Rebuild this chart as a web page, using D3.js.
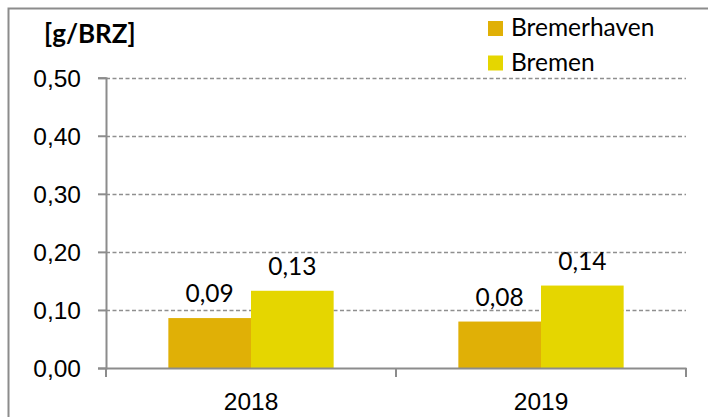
<!DOCTYPE html>
<html>
<head>
<meta charset="utf-8">
<script src="https://cdn.jsdelivr.net/npm/d3@7"></script>
<style>
  body { margin: 0; background: #fff; }
  svg { display: block; font-family: Lato, "Open Sans", sans-serif; }
</style>
</head>
<body>
<svg id="chart" width="708" height="417"></svg>
<script>
const years = ["2018", "2019"];
const seriesNames = ["Bremerhaven", "Bremen"];
const bremerhaven = [0.086, 0.080];
const bremen = [0.133, 0.142];
const labels = [["0,09", "0,13"], ["0,08", "0,14"]];
const yTicks = [0, 0.1, 0.2, 0.3, 0.4, 0.5];
const colors = ["#e0b006", "#e5d600"];

const svg = d3.select("#chart");
const plotLeft = 106, plotRight = 686, plotTop = 77.7, plotBottom = 368;
const fontSize = "24.5px";

// outer frame, cut off at right and bottom
svg.append("rect")
  .attr("x", 8.5).attr("y", 8.5)
  .attr("width", 740).attr("height", 440)
  .attr("fill", "none")
  .attr("stroke", "#8c8c8c")
  .attr("stroke-width", 2);

const x = d3.scaleBand().domain(years).range([plotLeft, plotRight]);
const xInner = d3.scaleBand().domain(seriesNames)
  .range([0, x.bandwidth() * 0.57]);
const y = d3.scaleLinear().domain([0, 0.5]).range([plotBottom, plotTop]);

// gridlines
svg.append("g")
  .selectAll("line")
  .data(yTicks.slice(1))
  .enter()
  .append("line")
  .attr("x1", plotLeft).attr("x2", plotRight)
  .attr("y1", (d) => Math.round(y(d)) + 0.5)
  .attr("y2", (d) => Math.round(y(d)) + 0.5)
  .attr("stroke", "#8f8f8f")
  .attr("stroke-width", 1.5)
  .attr("stroke-dasharray", "4,2.5");

// bars
const rows = years.map((yr, i) => ({ year: yr, values: [bremerhaven[i], bremen[i]], labels: labels[i] }));
const groups = svg.append("g")
  .selectAll("g")
  .data(rows)
  .enter()
  .append("g")
  .attr("transform", (d) => `translate(${x(d.year) + x.bandwidth() * 0.215}, 0)`);

groups.selectAll("rect")
  .data((d) => d.values.map((v, j) => ({ v, name: seriesNames[j], j })))
  .enter()
  .append("rect")
  .attr("x", (d) => xInner(d.name))
  .attr("width", xInner.bandwidth())
  .attr("y", (d) => y(d.v))
  .attr("height", (d) => y(0) - y(d.v))
  .attr("fill", (d) => colors[d.j]);

groups.selectAll("text")
  .data((d) => d.values.map((v, j) => ({ v, name: seriesNames[j], label: d.labels[j] })))
  .enter()
  .append("text")
  .attr("x", (d) => xInner(d.name) + xInner.bandwidth() / 2)
  .attr("y", (d) => y(d.v) - 16)
  .attr("text-anchor", "middle")
  .style("font-size", fontSize)
  .attr("fill", "#000")
  .text((d) => d.label);

// y-axis
const yAxis = svg.append("g")
  .attr("transform", `translate(${plotLeft}, 0)`)
  .call(d3.axisLeft(y).tickValues(yTicks).tickSize(8).tickPadding(17)
    .tickFormat((d) => d3.format(".2f")(d).replace(".", ",")));
yAxis.select(".domain").attr("stroke", "#8c8c8c").attr("stroke-width", 2);
yAxis.selectAll(".tick line").attr("stroke", "#8c8c8c").attr("stroke-width", 2);
yAxis.selectAll(".tick text").style("font-size", fontSize).attr("fill", "#000").attr("dy", "0.36em");

// x-axis
const xAxis = svg.append("g")
  .attr("transform", `translate(0, ${plotBottom})`)
  .call(d3.axisBottom(x).tickSize(0).tickPadding(25));
xAxis.select(".domain").attr("stroke", "#8c8c8c").attr("stroke-width", 2);
xAxis.selectAll(".tick text").style("font-size", fontSize).attr("fill", "#000");
xAxis.selectAll(".band-tick")
  .data([years[0], years[1], null])
  .enter()
  .append("line")
  .attr("x1", (d) => d === null ? plotRight : x(d))
  .attr("x2", (d) => d === null ? plotRight : x(d))
  .attr("y1", 0).attr("y2", 9)
  .attr("stroke", "#8c8c8c")
  .attr("stroke-width", 2);

// unit title
svg.append("text")
  .attr("x", 44).attr("y", 43)
  .style("font-size", "26px")
  .style("font-weight", 700)
  .text("[g/BRZ]");

// legend
seriesNames.forEach((name, i) => {
  svg.append("rect")
    .attr("x", 488).attr("y", 21 + i * 34.5)
    .attr("width", 15).attr("height", 15)
    .attr("fill", colors[i]);
  svg.append("text")
    .attr("x", 511).attr("y", 36 + i * 34.5)
    .style("font-size", fontSize)
    .text(name);
});
</script>
</body>
</html>
